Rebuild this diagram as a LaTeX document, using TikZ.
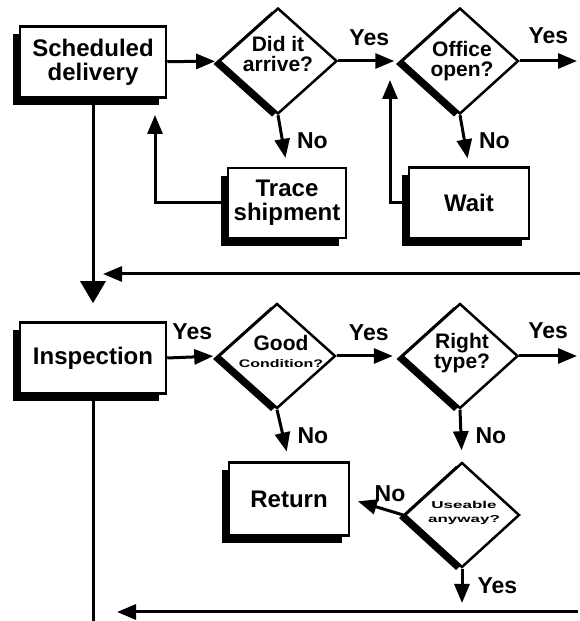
\documentclass[tikz,border=0pt]{standalone}
\usepackage{fontspec}
\setmainfont{Liberation Sans}
\usepackage{graphicx}
\usetikzlibrary{arrows.meta, positioning, calc, shapes.geometric, shadows}
\newcommand{\hstretch}[2]{\scalebox{#1}[1]{#2}}

\begin{document}
\begin{tikzpicture}[
    x=1pt, y=1pt,
    stepbox/.style={rectangle, draw, line width=2.5pt, fill=white, minimum width=120pt, minimum height=71pt, align=center, inner sep=0pt, font=\bfseries\fontsize{24}{24}\selectfont, drop shadow={shadow xshift=-7pt, shadow yshift=-8pt, opacity=1, fill=black}},
    question/.style={diamond, draw, line width=2.5pt, fill=white, inner sep=0pt, minimum width=117pt, minimum height=105pt, drop shadow={shadow xshift=-6pt, shadow yshift=-3pt, opacity=1, fill=black}},
    qtext/.style={align=center, inner sep=0pt, font=\bfseries\fontsize{21}{20}\selectfont},
    answer/.style={font=\bfseries\fontsize{23}{23}\selectfont, inner sep=0pt},
    arrow/.style={-{Triangle[length=19pt, width=15pt]}, line width=3pt},
    bigarrow/.style={-{Triangle[length=22pt, width=25pt]}, line width=3pt},
    flow/.style={line width=3pt}
]
\useasboundingbox (0,0) rectangle (580,621);

% Boxes
\node[stepbox, minimum width=146pt] (sched) at (93,559) {Scheduled\\delivery};
\node[stepbox, minimum width=146pt] (insp) at (93,263) {Inspection};
\node[stepbox, minimum width=118pt, minimum height=70pt] (trace) at (287,418) {Trace\\shipment};
\node[stepbox] (wait) at (469,418) {Wait};
\node[stepbox, minimum height=73pt] (return) at (289,122) {Return};

% Questions
\node[question, minimum width=118pt, minimum height=106pt] (arrive) at (278,560) {};
\node[question, minimum height=106pt] (office) at (460,560) {};
\node[question] (good) at (277,265) {};
\node[question, minimum width=116pt] (right) at (460,265) {};
\node[question, minimum width=115pt] (useable) at (462,106) {};

\node[qtext] (arrivet) at ($(arrive)+(0,7)$) {Did it\\arrive?};
\node[qtext] (officet) at ($(office)+(2,0)$) {Office\\open?};
\node[qtext] (goodt) at ($(good)+(4,5)$) {Good\\[-3pt]\hstretch{1.45}{\fontsize{11}{11}\selectfont Condition?}};
\node[qtext] (rightt) at ($(right)+(2,3)$) {Right\\type?};
\node[qtext, font=\bfseries\fontsize{10}{14}\selectfont] (useablet) at ($(useable)+(2,2)$) {\hstretch{1.7}{Useable}\\\hstretch{1.7}{anyway?}};

% Loose ends
\coordinate (officeout) at (577,560);
\coordinate (traceback) at (155,506);
\coordinate (waitback) at (390,541);
\coordinate (upstart) at (580,347);
\coordinate (uptip) at (103,347);
\coordinate (rightout) at (577,265);
\coordinate (useableout) at (462,18);
\coordinate (lowstart) at (578,9);
\coordinate (lowtip) at (117,9);
\coordinate (inspend) at (93,0);

% Upper row
\draw[arrow, shorten >=3pt] (sched) -- (arrive);
\draw[arrow, shorten >=6pt] (arrive.east) -- (office.west) node[answer, midway, above=14pt] {Yes};
\draw[arrow] (office.east) -- (officeout) node[answer, midway, above=16pt] {Yes};
\draw[arrow, shorten >=9pt] (arrive.south) -- (trace.north) node[answer, midway, right=13pt] {No};
\draw[arrow, shorten >=8pt] (office.south) -- (wait.north) node[answer, midway, right=13pt] {No};
\draw[arrow] (trace.west) -| (traceback);
\draw[arrow] (wait.west) -| (waitback);
\draw[arrow] (upstart) -- (uptip);
\draw[bigarrow, shorten >=18pt] (sched.south) -- (insp.north);

% Lower row
\draw[arrow, shorten >=4pt] (insp.east) -- (good.west) node[answer, midway, above=16pt] {Yes};
\draw[arrow, shorten >=8pt] (good.east) -- (right.west) node[answer, midway, above=14pt] {Yes};
\draw[arrow] (right.east) -- (rightout) node[answer, midway, above=16pt] {Yes};
\draw[arrow, shorten >=10pt] (good.south) -- (return.north) node[answer, midway, right=13pt] {No};
\draw[arrow, shorten >=11pt] (right.south) -- (useable.north) node[answer, midway, right=13pt] {No};
\draw[arrow, shorten >=8pt] (useable.west) -- (return.east) node[answer, pos=0.25, above=8pt] {No};
\draw[arrow] (useable.south) -- (useableout) node[answer, midway, right=14pt] {Yes};
\draw[arrow] (lowstart) -- (lowtip);
\draw[flow] (insp.south) -- (inspend);

\end{tikzpicture}
\end{document}
